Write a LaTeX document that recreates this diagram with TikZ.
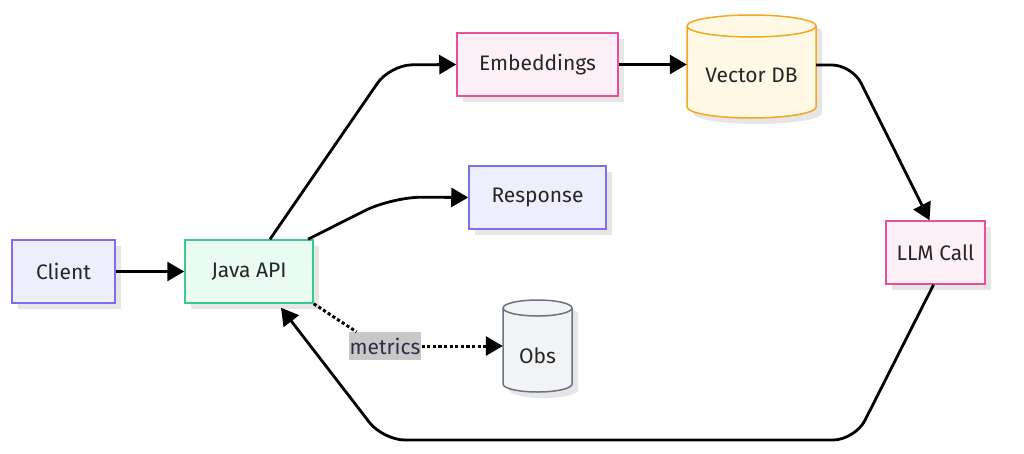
\documentclass[tikz,border=0pt]{standalone}
\usepackage{fontspec}
\setmainfont{Fira Sans}
\usetikzlibrary{arrows.meta,shadows}
\definecolor{shadowc}{HTML}{E6E6E6}
\definecolor{txt}{HTML}{262626}
\definecolor{cfill}{HTML}{EEEEFF}
\definecolor{cdraw}{HTML}{7B6FEA}
\definecolor{jfill}{HTML}{EAFBF3}
\definecolor{jdraw}{HTML}{3CC98E}
\definecolor{efill}{HTML}{FDF0F7}
\definecolor{edraw}{HTML}{E8509A}
\definecolor{vfill}{HTML}{FFF9E6}
\definecolor{vdraw}{HTML}{F5A623}
\definecolor{ofill}{HTML}{F2F3F5}
\definecolor{odraw}{HTML}{6B7280}
\definecolor{lblbg}{HTML}{C8C8C8}
\definecolor{lbltxt}{HTML}{2E2E4A}
\tikzset{
  box/.style={rectangle, draw, line width=1.5pt, minimum height=63pt, inner sep=0pt,
    font=\fontsize{21}{24}\selectfont, text=txt,
    drop shadow={shadow xshift=6pt, shadow yshift=-6pt, fill=shadowc, opacity=1}},
  hold/.style={rectangle, inner sep=0pt},
  ctext/.style={font=\fontsize{21}{24}\selectfont, text=txt, inner sep=0pt},
  link/.style={line width=2.8pt, black, -{Triangle[length=17pt,width=19pt]}},
  dots/.style={line width=3pt, black, dash pattern=on 3.2pt off 2.4pt},
}
\begin{document}
\begin{tikzpicture}[x=1pt,y=-1pt]
\useasboundingbox (0,0) rectangle (1024,453);
\fill[white] (0,0) rectangle (1024,453);

% rectangular nodes
\node[box, fill=cfill, draw=cdraw, minimum width=103pt] (cli) at (63.5,271.5) {Client};
\node[box, fill=jfill, draw=jdraw, minimum width=128pt] (jav) at (249,271.5) {Java API};
\node[box, fill=efill, draw=edraw, minimum width=161pt] (emb) at (537.5,64.5) {Embeddings};
\node[box, fill=cfill, draw=cdraw, minimum width=137pt] (resp) at (537.5,197.5) {Response};
\node[box, fill=efill, draw=edraw, minimum width=99pt] (llm) at (935.5,252.5) {LLM Call};

% Vector DB cylinder
\node[hold, minimum width=129pt, minimum height=103pt] (vdb) at (751.5,66.5) {};
\fill[shadowc] (693,32) -- (693,113) arc[start angle=180,end angle=360,x radius=64.5pt,y radius=11pt]
  -- (822,32) arc[start angle=0,end angle=180,x radius=64.5pt,y radius=11pt] -- cycle;
\filldraw[fill=vfill, draw=vdraw, line width=1.5pt] (687,26) -- (687,107)
  arc[start angle=180,end angle=360,x radius=64.5pt,y radius=11pt]
  -- (816,26) arc[start angle=0,end angle=180,x radius=64.5pt,y radius=11pt] -- cycle;
\draw[vdraw, line width=1.5pt] (687,26) arc[start angle=180,end angle=360,x radius=64.5pt,y radius=11pt];
\node[ctext] (vdbt) at (751.5,75) {Vector DB};

% Obs cylinder
\node[hold, minimum width=69pt, minimum height=90pt] (obs) at (537.5,345) {};
\fill[shadowc] (509,314) -- (509,390) arc[start angle=180,end angle=360,x radius=34.5pt,y radius=8pt]
  -- (578,314) arc[start angle=0,end angle=180,x radius=34.5pt,y radius=8pt] -- cycle;
\filldraw[fill=ofill, draw=odraw, line width=1.5pt] (503,308) -- (503,384)
  arc[start angle=180,end angle=360,x radius=34.5pt,y radius=8pt]
  -- (572,308) arc[start angle=0,end angle=180,x radius=34.5pt,y radius=8pt] -- cycle;
\draw[odraw, line width=1.5pt] (503,308) arc[start angle=180,end angle=360,x radius=34.5pt,y radius=8pt];
\node[ctext] (obst) at (537.5,356) {Obs};

% edge label
\node[fill=lblbg, text=lbltxt, font=\fontsize{21}{24}\selectfont, inner xsep=1pt, inner ysep=0pt,
  minimum height=28pt] (ml) at (385,346) {metrics};

% connectors
\draw[link] (cli.east) -- (jav.west);
\draw[link, rounded corners=22pt] ([xshift=21pt]jav.north) -- (390,65) -- (emb.west);
\draw[link, rounded corners=30pt] ([xshift=59pt]jav.north) -- (392,197) -- (resp.west);
\draw[link] (emb.east) -- (vdb.west |- emb.east);
\draw[link, rounded corners=20pt] (vdb.east |- 0,65) -- (852,65) -- ([xshift=-6pt]llm.north);
\draw[link, rounded corners=22pt] ([xshift=-2pt]llm.south) -- (855,440) -- (383,440) -- ([xshift=32pt,yshift=-4pt]jav.south);
\draw[dots] (jav.south east) -- ([xshift=8pt]ml.north west);
\draw[dots, -{Triangle[length=17pt,width=19pt]}] (ml.east) -- (obs.west |- ml.east);
\end{tikzpicture}
\end{document}
